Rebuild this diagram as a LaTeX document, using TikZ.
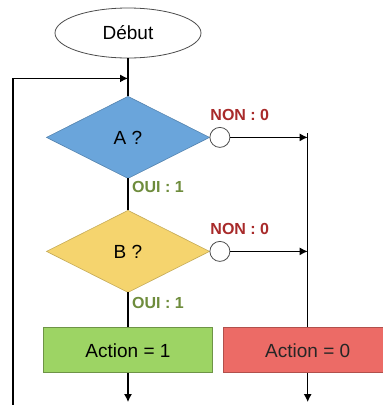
\documentclass[tikz,border=0pt]{standalone}
\usepackage{fontspec}
\setmainfont{Liberation Sans}
\usepackage{tikz}
\usetikzlibrary{positioning,shapes.geometric,arrows.meta,calc}
\definecolor{bleuA}{HTML}{6AA5DB}
\definecolor{jauneB}{HTML}{F5D46E}
\definecolor{vertact}{HTML}{9DD464}
\definecolor{rougeact}{HTML}{EC6B66}
\definecolor{nonrouge}{HTML}{A82A2A}
\definecolor{ouivert}{HTML}{6E8C3C}
\tikzset{
  term/.style={ellipse,draw=black!70,fill=white,line width=0.8pt,
    minimum width=146pt,minimum height=50pt,font=\fontsize{19}{22}\selectfont},
  test/.style={diamond,inner sep=0pt,outer sep=0pt,minimum width=163pt,
    minimum height=82pt,line width=0.6pt,font=\fontsize{19}{22}\selectfont},
  act/.style={rectangle,minimum width=169pt,minimum height=45pt,
    line width=0.7pt,font=\fontsize{19}{22}\selectfont},
  rond/.style={circle,draw=black!70,fill=white,minimum size=20pt,
    inner sep=0pt,line width=0.8pt},
  non/.style={font=\bfseries\fontsize{16}{18}\selectfont,text=nonrouge,inner sep=0pt},
  oui/.style={font=\bfseries\fontsize{16}{18}\selectfont,text=ouivert,inner sep=0pt},
  ln/.style={line width=1.3pt},
  fl/.style={-{Latex[length=8pt,width=8pt]},line width=1.3pt},
}
\begin{document}
\begin{tikzpicture}[x=1pt,y=1pt]
  \useasboundingbox (0,0) rectangle (383,-405);
  \node[term] (deb) at (128,-33) {Début};
  \node[test,fill=bleuA,draw=bleuA!80!black,below=38pt of deb] (a) {A ?};
  \node[rond,right=0pt of a] (ca) {};
  \node[non,above right=9pt and -17pt of ca] (na) {NON : 0};
  \node[oui,below right=3pt and 4pt of a.south] (oa) {OUI : 1};
  \node[test,fill=jauneB,draw=jauneB!80!black,below=32pt of a] (b) {B ?};
  \node[rond,right=0pt of b] (cb) {};
  \node[non,above right=9pt and -17pt of cb] (nb) {NON : 0};
  \node[oui,below right=5pt and 4pt of b.south] (ob) {OUI : 1};
  \node[act,fill=vertact,draw=vertact!70!black,below=35pt of b] (act1) {Action = 1};
  \node[act,fill=rougeact,draw=rougeact!75!black,text=black!85,right=10pt of act1] (act0) {Action = 0};
  \coordinate[above=18pt of a] (mrg);
  \coordinate[left=115pt of mrg] (ret);
  \coordinate[below=29pt of act1] (e1);
  \coordinate[below=29pt of act0] (e0);
  % liaisons
  \draw[ln] (deb) -- (a);
  \draw[ln] (a) -- (b);
  \draw[ln] (b) -- (act1);
  \draw[fl] (ca) -- (ca -| act0);
  \draw[fl] (cb) -- (cb -| act0);
  \draw[ln] ($(ca -| act0)+(0,4)$) -- (act0);
  \draw[fl] (act1) -- (e1);
  \draw[fl] (act0) -- (e0);
  % retour de boucle
  \draw[fl] ($(ret |- e1)+(0,-4)$) |- (mrg);
\end{tikzpicture}
\end{document}
